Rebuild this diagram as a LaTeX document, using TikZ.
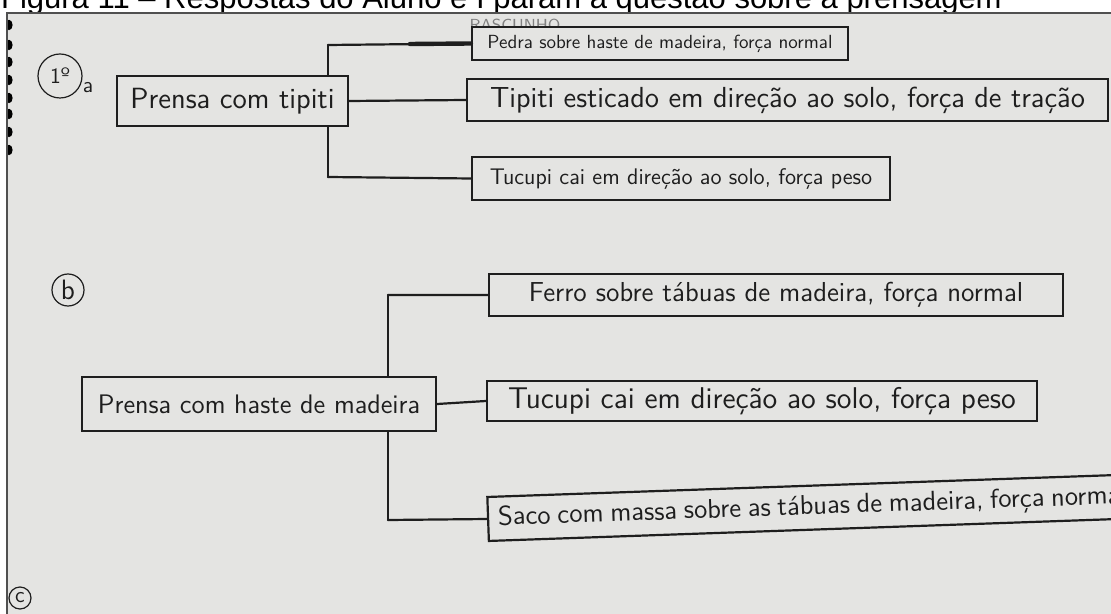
\documentclass[tikz,border=0pt]{standalone}
\usepackage{fontspec}
\usepackage{xcolor}
\usepackage{tikz}
\newfontfamily\legendafont{Liberation Sans}
\definecolor{papel}{RGB}{228,228,226}
\definecolor{tinta}{RGB}{30,30,30}
\definecolor{moldura}{RGB}{80,80,80}
\newcommand{\letra}[1]{\fontsize{#1}{#1}\selectfont\sffamily}

\begin{document}
\begin{tikzpicture}[x=0.5pt,y=-0.5pt,line cap=round,line width=1.1pt,
  caixa/.style={draw=tinta,fill=papel,text=tinta,rectangle,inner sep=0pt,align=center},
  rotulo/.style={text=tinta,font=\letra{11},inner sep=1pt},
  galho/.style={draw=tinta,line width=1.1pt}]
  \useasboundingbox (0,0) rectangle (1111,614);
  \clip (0,0) rectangle (1111,614);
% caption above the photo
  \node[anchor=base west,inner sep=0pt,font=\fontsize{15.5}{15.5}\selectfont\legendafont] (legenda) at (0,9)
    {Figura 11 – Respostas do Aluno e I param a questão sobre a prensagem};
% the photo
  \fill[papel] (7,13) rectangle (1111,614);
  \begin{scope}
    \clip (7,13) rectangle (1111,614);
    \node[anchor=base,text=gray,font=\letra{8}] (rascunho) at (515,31) {RASCUNHO};
    \foreach \y in {25,45,62,80,98,114,132,150}
      \fill[black] (9,\y) ellipse (1.8pt and 2.6pt);
  \end{scope}
  \draw[moldura,line width=0.8pt] (7,614) -- (7,13) -- (1111,13);

% item a
  \node[rotulo,draw=tinta,line width=0.6pt,circle,minimum size=22pt] (itemA) at (60,76) {1º};
  \node[rotulo] (letraA) at (88,88) {a};
  \coordinate (topoA) at (328,45);
  \coordinate (grossoA) at (410,44);
  \coordinate (baseA) at (328,177);
  \node[caixa,minimum width=115.5pt,minimum height=25pt] (prensaA) at (232.5,101)
    {\letra{14.6}Prensa com tipiti};
  \node[caixa,minimum width=188pt,minimum height=16.5pt] (pedra) at (660,43.5)
    {\letra{9.5}Pedra sobre haste de madeira, força normal};
  \node[caixa,minimum width=320.5pt,minimum height=21pt] (tipiti) at (787.5,100)
    {\letra{14.5}Tipiti esticado em direção ao solo, força de tração};
  \node[caixa,minimum width=209pt,minimum height=21.5pt] (tucupiA) at (681,178.5)
    {\letra{11.3}Tucupi cai em direção ao solo, força peso};
  \draw[galho] (topoA) -- (prensaA.north -| topoA)
    (prensaA.south -| topoA) -- (baseA);
  \draw[galho] (topoA) -- (pedra.west)
    (prensaA.east) -- (tipiti.west)
    (baseA) -- (tucupiA.west);
  \draw[galho,line width=2.2pt] (grossoA) -- (pedra.west);

% item b
  \node[rotulo,draw=tinta,line width=0.6pt,circle,minimum size=16pt,font=\letra{14}] (itemB) at (68,290) {b};
  \coordinate (topoB) at (388,295);
  \coordinate (baseB) at (388,520);
  \node[caixa,minimum width=177pt,minimum height=27pt] (prensaB) at (259,404)
    {\letra{13.4}Prensa com haste de madeira};
  \node[caixa,minimum width=287pt,minimum height=21pt] (ferro) at (776,295)
    {\letra{13.7}Ferro sobre tábuas de madeira, força normal};
  \node[caixa,minimum width=275pt,minimum height=20pt] (tucupiB) at (762,401)
    {\letra{15}Tucupi cai em direção ao solo, força peso};
  \node[caixa,anchor=west,rotate=2,text width=345pt,align=left,inner xsep=5pt,
    minimum height=22pt] (saco) at (487,519)
    {\letra{13.6}Saco com massa sobre as tábuas de madeira, força normal};
  \draw[galho] (topoB) -- (prensaB.north -| topoB)
    (prensaB.south -| topoB) -- (baseB);
  \draw[galho] (topoB) -- (ferro.west)
    (prensaB.east) -- (tucupiB.west)
    (baseB) -- (saco.west);

% item c
  \node[rotulo,draw=tinta,line width=0.6pt,circle,minimum size=11pt] (itemC) at (20,598) {c};
\end{tikzpicture}
\end{document}
